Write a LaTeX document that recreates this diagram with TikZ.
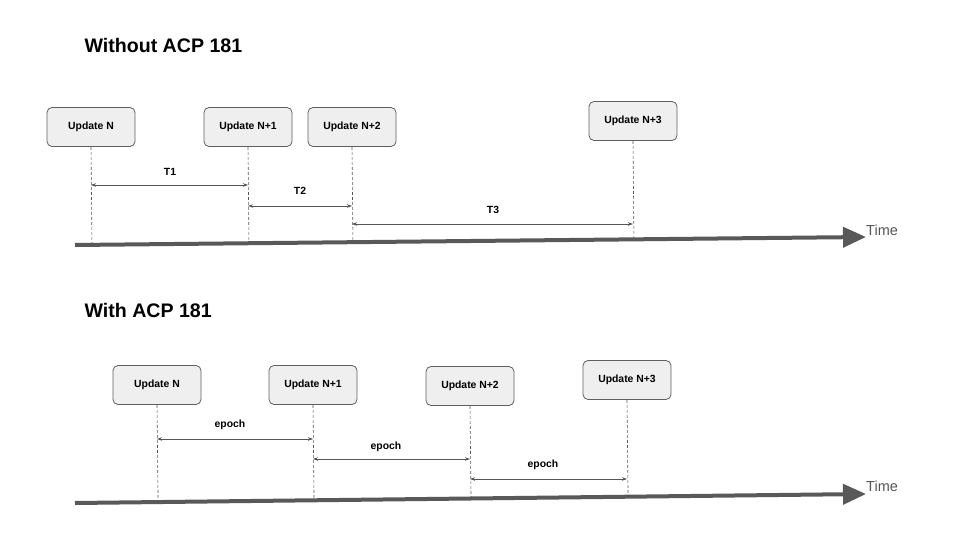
\documentclass[tikz,border=0pt]{standalone}
\usepackage{fontspec}
\setmainfont{Liberation Sans}
\usepackage{tikz}
\usetikzlibrary{arrows.meta,positioning,calc}
\definecolor{boxfill}{HTML}{EFEFEF}
\definecolor{boxline}{HTML}{5F5F5F}
\definecolor{axisgray}{HTML}{595959}
\definecolor{graytext}{HTML}{555555}

\begin{document}
\begin{tikzpicture}[
  x=1pt, y=-1pt,
  update/.style={
    draw=boxline, fill=boxfill, rounded corners=5pt, line width=0.8pt,
    minimum width=88pt, minimum height=39pt, font=\fontsize{10.4}{12}\selectfont\bfseries
  },
  heading/.style={anchor=west, font=\fontsize{19.6}{22}\selectfont\bfseries},
  guide/.style={dashed, draw=graytext, line width=0.6pt, dash pattern=on 3pt off 2pt},
  span/.style={{Stealth[length=5pt,width=3.5pt]}-{Stealth[length=5pt,width=3.5pt]}, draw=graytext, line width=0.7pt},
  spanlabel/.style={font=\fontsize{10.4}{12}\selectfont\bfseries},
  timeline/.style={-{Triangle[length=23pt,width=20pt]}, line width=4pt, draw=axisgray},
  timelabel/.style={anchor=west, inner sep=0pt, text=graytext, font=\fontsize{14.5}{16}\selectfont}
]
  \useasboundingbox (0,0) rectangle (960,540);

  % without ACP 181
  \node[heading] (titleA) at (81,45) {Without ACP 181};
  \node[update] (a0) at (91,127) {Update N};
  \node[update] (a1) at (248,127) {Update N+1};
  \node[update] (a2) at (352,127) {Update N+2};
  \node[update] (a3) at (633,121) {Update N+3};
  \coordinate (axA0) at (75,245);
  \coordinate (axA1) at (866,237);
  \draw[timeline] (axA0) -- (axA1);
  \node[timelabel] (timeA) at (866,230) {Time};
  \foreach \n in {a0,a1,a2,a3}
    \draw[guide] (\n.south) -- ($(axA0)!(\n.south)!(axA1)$);
  \draw[span] (a0.south |- 0,185) -- (a1.south |- 0,185);
  \draw[span] (a1.south |- 0,206) -- (a2.south |- 0,206);
  \draw[span] (a2.south |- 0,224) -- (a3.south |- 0,224);
  \node[spanlabel] (t1) at (170,172) {T1};
  \node[spanlabel] (t2) at (300,191) {T2};
  \node[spanlabel] (t3) at (493,210) {T3};

  % with ACP 181
  \node[heading] (titleB) at (81,310) {With ACP 181};
  \node[update] (b0) at (157,385) {Update N};
  \node[update] (b1) at (313,385) {Update N+1};
  \node[update] (b2) at (470,386) {Update N+2};
  \node[update] (b3) at (627,380) {Update N+3};
  \coordinate (axB0) at (75,503);
  \coordinate (axB1) at (866,494);
  \draw[timeline] (axB0) -- (axB1);
  \node[timelabel] (timeB) at (866,486) {Time};
  \foreach \n in {b0,b1,b2,b3}
    \draw[guide] (\n.south) -- ($(axB0)!(\n.south)!(axB1)$);
  \draw[span] (b0.south |- 0,439) -- (b1.south |- 0,439);
  \draw[span] (b1.south |- 0,459) -- (b2.south |- 0,459);
  \draw[span] (b2.south |- 0,479) -- (b3.south |- 0,479);
  \node[spanlabel] (e1) at (230,425) {epoch};
  \node[spanlabel] (e2) at (386,447) {epoch};
  \node[spanlabel] (e3) at (543,465) {epoch};
\end{tikzpicture}
\end{document}
